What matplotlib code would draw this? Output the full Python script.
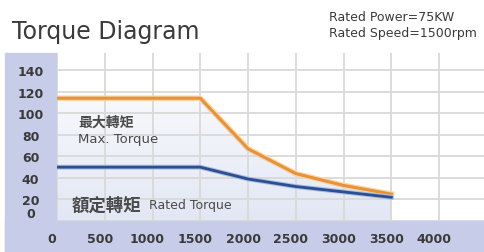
import matplotlib
matplotlib.use("Agg")
import matplotlib.pyplot as plt
import matplotlib.patheffects as pe
import matplotlib.transforms as mtransforms
from matplotlib.patches import Rectangle
import numpy as np

# speed (rpm) vs torque
speed = [0, 1500, 2000, 2500, 3000, 3500]
max_torque = [114, 114, 67, 44, 33, 25]
rated_torque = [50, 50, 39, 32, 27, 22]

x_ticks = [0, 500, 1000, 1500, 2000, 2500, 3000, 3500, 4000]
y_ticks = [0, 20, 40, 60, 80, 100, 120, 140]

W, H = 484, 253
fig = plt.figure(figsize=(W / 100, H / 100), dpi=100)
fig.patch.set_facecolor("white")

# lavender L-shaped frame behind the tick labels
lav = "#c7cce8"
fig.patches.append(Rectangle((5 / W, 0), (57 - 5) / W, (H - 54) / H,
                             transform=fig.transFigure, color=lav, zorder=-1))
fig.patches.append(Rectangle((5 / W, 0), 1, (H - 222) / H,
                             transform=fig.transFigure, color=lav, zorder=-1))

ax = fig.add_axes([57 / W, (H - 222) / H, (W - 57) / W, (222 - 54) / H])
ax.set_xlim(0, 4470)
ax.set_ylim(0, 156)
ax.set_facecolor("white")

# soft blue gradient under the max torque curve
grad = np.linspace(1, 0, 256).reshape(-1, 1)
img = ax.imshow(grad, extent=[0, 4470, 0, 156], aspect="auto", zorder=0,
                cmap=matplotlib.colors.LinearSegmentedColormap.from_list(
                    "bg", ["#ffffff", "#e2e7f4"]), origin="lower")
poly = ax.fill_between(speed, 0, max_torque, color="none")
img.set_clip_path(poly.get_paths()[0], transform=ax.transData)

ax.set_xticks(x_ticks)
ax.set_yticks(y_ticks)
ax.grid(True, color="#d9d9d9", linewidth=1.3, zorder=1)
for s in ax.spines.values():
    s.set_visible(False)
ax.tick_params(length=0)

ax.set_yticklabels([str(v) for v in y_ticks], fontsize=9, fontweight="bold",
                   color="#3a3a3a", ha="center")
ax.tick_params(axis="y", pad=19)
ax.set_xticklabels([str(v) for v in x_ticks], fontsize=9, fontweight="bold",
                   color="#3a3a3a")
ax.tick_params(axis="x", pad=8)
shift = mtransforms.ScaledTranslation(-5 / 100, 0, fig.dpi_scale_trans)
for lbl in ax.get_xticklabels():
    lbl.set_transform(lbl.get_transform() + shift)
# the "0" label sits a little above its grid position in the original
ax.get_yticklabels()[0].set_transform(
    ax.get_yticklabels()[0].get_transform()
    + mtransforms.ScaledTranslation(0, 9 / 100, fig.dpi_scale_trans))

ax.plot(speed, max_torque, color="#e8923a", linewidth=2.2, zorder=3,
        path_effects=[pe.Stroke(linewidth=4, foreground="#f8d6a8"), pe.Normal()])
ax.plot(speed, rated_torque, color="#2c4f8f", linewidth=2.0, zorder=3,
        path_effects=[pe.Stroke(linewidth=3.5, foreground="#aabde2"), pe.Normal()])

cjk = ["Noto Sans CJK TC", "DejaVu Sans"]
ax.text(225, 92, "最大轉矩", fontsize=10, fontweight="bold", color="#4a4a4a",
        family=cjk, va="center")
ax.text(225, 77, "Max. Torque", fontsize=9.5, color="#4a4a4a", va="center")
ax.text(150, 15, "額定轉矩", fontsize=12.5, fontweight="bold", color="#4a4a4a",
        family=cjk, va="center")
ax.text(960, 15, "Rated Torque", fontsize=9, color="#4a4a4a", va="center")

fig.text(12 / W, 1 - 39 / H, "Torque Diagram", fontsize=17, color="#3a3a3a")
fig.text(329 / W, 1 - 21 / H, "Rated Power=75KW", fontsize=9, color="#3a3a3a")
fig.text(329 / W, 1 - 37 / H, "Rated Speed=1500rpm", fontsize=9, color="#3a3a3a")

fig.savefig("out.png", dpi=100)
